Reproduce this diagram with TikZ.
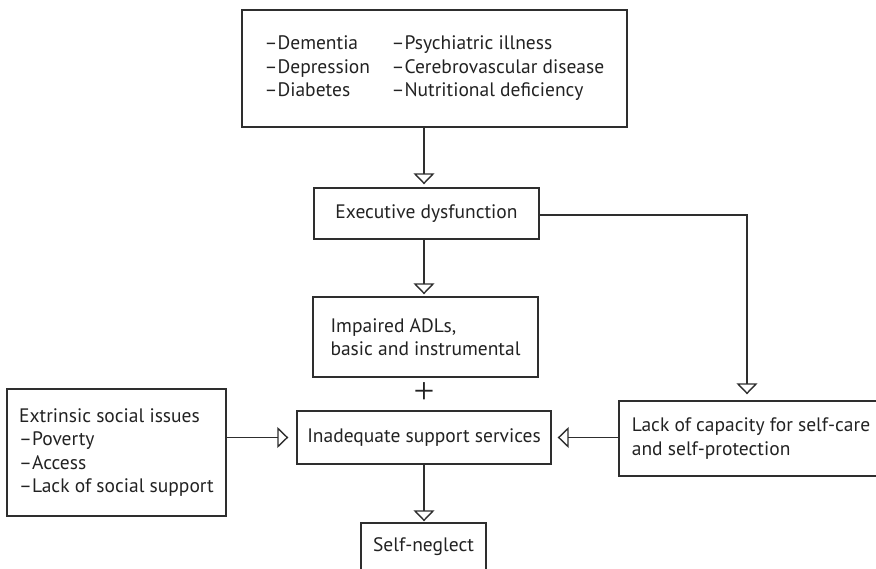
\documentclass[tikz,border=0pt]{standalone}
\usepackage{fontspec}
\setmainfont{PT Sans}
\newfontfamily\plusfont{Liberation Serif}
\usetikzlibrary{arrows.meta}
\definecolor{linec}{HTML}{2E2E2E}
\definecolor{txtc}{HTML}{222222}
\begin{document}
\begin{tikzpicture}[x=1pt,y=-1pt,
  box/.style={draw=linec, line width=1.4pt, rectangle, inner sep=0pt, align=left,
    font=\fontsize{19.5}{23.5}\selectfont, text=txtc},
  conn/.style={draw=linec, line width=1.4pt,
    -{Triangle[open, length=11pt, width=21pt, line width=1.4pt]}}]
\useasboundingbox (0,0) rectangle (876,569);
\clip (0,0) rectangle (876,569);

\node[box, minimum width=385pt, minimum height=117pt] (top) at (434.5,68.5)
  {\begin{tabular}{@{}p{127pt}@{}l@{}}
   \textendash Dementia & \textendash Psychiatric illness\\
   \textendash Depression & \textendash Cerebrovascular disease\\
   \textendash Diabetes & \textendash Nutritional deficiency
   \end{tabular}};
\node[box, minimum width=225pt, minimum height=51pt] (exec) at (426.5,213.5) {Executive dysfunction};
\node[box, minimum width=225pt, minimum height=80pt] (adl) at (425.5,337) {Impaired ADLs,\\basic and instrumental};
\node[font=\plusfont\fontsize{37}{37}\selectfont, text=txtc, inner sep=0pt] (plus) at (424,393) {+};
\node[box, minimum width=254pt, minimum height=53pt] (inad) at (424,437.5) {Inadequate support services};
\node[box, minimum width=219pt, minimum height=127pt] (extr) at (116.5,452.5)
  {Extrinsic social issues\\\textendash Poverty\\\textendash Access\\\textendash Lack of social support};
\node[box, minimum width=264pt, minimum height=75pt] (lack) at (751,438.5)
  {Lack of capacity for self-care\\and self-protection};
\node[box, minimum width=125pt, minimum height=48pt] (self) at (423.5,547) {Self-neglect};

\coordinate (axis) at (424,0);
\coordinate (turn) at (747,215);

\draw[conn, shorten >=3pt] (top.south -| axis) -- (exec.north -| axis);
\draw[conn, shorten >=2pt] (exec.south -| axis) -- (adl.north -| axis);
\draw[conn, shorten >=6pt] (exec.east |- turn) -- (turn) -- (lack.north -| turn);
\draw[conn, shorten >=8pt] (extr.east |- inad) -- (inad.west);
\draw[conn, shorten >=6pt] (lack.west |- inad) -- (inad.east);
\draw[conn, shorten >=1pt] (inad.south -| axis) -- (self.north -| axis);
\end{tikzpicture}
\end{document}
